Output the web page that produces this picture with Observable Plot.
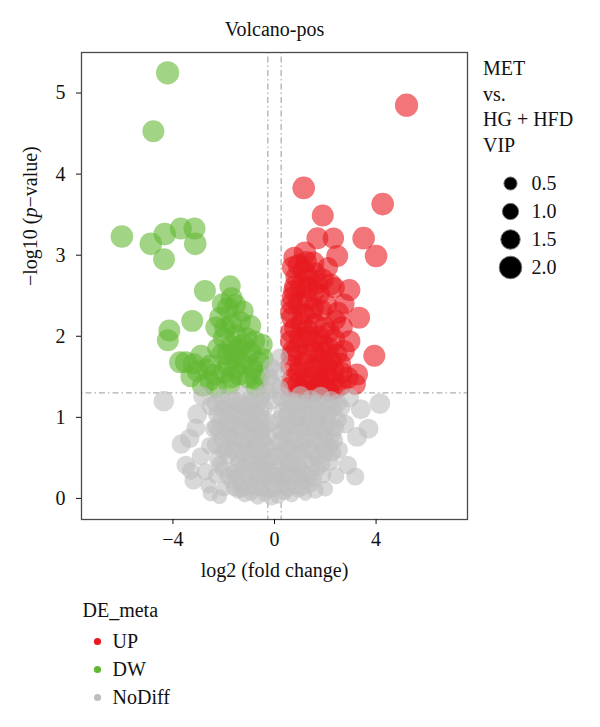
<!DOCTYPE html>
<html><head><meta charset="utf-8">
<script src="https://cdn.jsdelivr.net/npm/d3@7"></script>
<script src="https://cdn.jsdelivr.net/npm/@observablehq/plot@0.6"></script>
<style>
body{margin:0;background:#fff;font-family:"Liberation Serif",serif;}
#wrap{position:relative;width:600px;height:727px;overflow:hidden;}
#wrap > *{position:absolute;}
#vipTitle{left:483px;top:56px;font-size:20px;line-height:25.7px;color:#111;white-space:nowrap;font-family:"Liberation Serif",serif;}
</style></head><body><div id="wrap"></div>
<script>
// ---- data: [log2 fold change, -log10 p, VIP]
const upPoints = [
 [5.20,4.85,2.1],[1.15,3.83,2.0],[4.26,3.63,2.0],[1.90,3.49,1.9],[1.69,3.21,1.9],[2.32,3.21,1.8],
 [3.51,3.21,2.0],[2.47,2.99,1.9],[4.00,2.99,2.0],[0.78,2.97,1.9],[1.20,3.03,2.0],[1.53,2.91,1.9],
 [0.72,2.85,1.9],[1.15,2.81,1.9],[1.60,2.78,1.8],[1.90,2.70,1.9],[2.20,2.64,1.9],[2.95,2.57,1.9],
 [0.85,2.73,1.8],[0.78,2.56,1.9],[1.30,2.60,1.9],[2.35,2.60,1.8],[0.72,2.48,1.9],[1.30,2.45,1.8],
 [1.75,2.52,1.9],[2.05,2.39,1.8],[2.50,2.29,1.9],[3.33,2.23,1.9],[0.70,2.23,1.9],[1.15,2.27,1.9],
 [1.60,2.15,1.9],[1.98,2.11,1.8],[2.65,2.11,1.9],[0.66,2.05,1.9],[1.00,1.98,1.9],[1.45,1.94,1.9],
 [1.90,1.90,1.8],[2.35,1.96,1.9],[2.95,1.94,1.9],[0.72,1.82,1.8],[1.30,1.78,1.9],[1.75,1.74,1.8],
 [2.20,1.70,1.9],[3.93,1.76,1.9],[0.66,1.64,1.9],[1.00,1.62,1.8],[1.53,1.60,1.9],[2.05,1.62,1.8],
 [2.58,1.66,1.9],[3.25,1.53,1.9],[0.72,1.47,1.9],[1.23,1.45,1.8],[1.75,1.47,1.9],[2.35,1.45,1.8],
 [2.88,1.49,1.9],[3.18,1.41,1.8],[0.66,1.37,1.9],[1.30,1.33,1.8],[1.98,1.37,1.9],[2.40,1.35,1.8],
 [0.93,1.41,1.9],[0.68,1.76,1.8],[0.65,1.94,1.9],[0.64,2.30,1.8],[0.70,2.40,1.9],[1.53,2.35,1.8],
 [1.30,2.07,1.9],[2.13,1.86,1.8],[2.73,1.82,1.9],[2.60,1.40,1.9],[1.60,1.33,1.8],
 [0.95,2.88,1.9],[1.35,2.72,1.9],[1.05,2.62,1.9],[1.55,2.55,1.9],[0.95,2.40,1.9],[1.45,2.28,1.9],
 [1.85,2.32,1.8],[1.05,2.15,1.9],[1.35,2.00,1.9],[1.75,2.00,1.8],[2.15,2.05,1.8],[0.90,1.85,1.9],
 [1.55,1.82,1.9],[1.95,1.80,1.8],[2.45,1.78,1.8],[1.20,1.68,1.9],[1.78,1.63,1.8],[2.35,1.58,1.8],
 [0.95,1.55,1.9],[1.50,1.50,1.9],[2.05,1.50,1.8],[2.65,1.55,1.8],[1.05,1.35,1.8],[1.80,1.40,1.8],
 [2.15,1.32,1.7],[0.80,2.62,1.8],[1.70,2.65,1.8],[2.10,2.85,1.7],[1.25,2.92,1.8],[0.80,2.10,1.8],
 [2.40,2.20,1.7],[2.75,2.40,1.7]
];
const dwPoints = [
 [-4.21,5.25,2.1],[-4.77,4.53,1.9],[-6.01,3.23,2.0],[-4.87,3.14,2.0],[-4.32,3.26,2.0],[-3.69,3.33,1.9],
 [-3.15,3.33,1.9],[-3.12,3.14,2.0],[-4.35,2.95,1.9],[-2.74,2.56,1.9],[-1.69,2.47,1.9],[-1.84,2.35,1.9],
 [-1.54,2.39,1.8],[-3.24,2.19,1.9],[-2.14,2.23,1.9],[-1.24,2.31,1.8],[-2.29,2.11,1.9],[-1.69,2.15,1.8],
 [-0.94,2.13,1.8],[-4.14,2.07,1.9],[-4.20,1.95,1.9],[-1.99,1.98,1.9],[-1.54,2.02,1.8],[-1.09,1.98,1.8],
 [-1.69,1.88,1.9],[-1.24,1.90,1.8],[-0.79,1.94,1.8],[-0.49,1.90,1.8],[-2.07,1.78,1.8],[-1.54,1.76,1.9],
 [-0.94,1.80,1.8],[-2.89,1.76,1.9],[-3.49,1.68,1.9],[-3.19,1.66,1.8],[-2.52,1.64,1.9],[-1.84,1.64,1.8],
 [-1.24,1.66,1.8],[-0.64,1.68,1.9],[-0.45,1.72,1.8],[-3.72,1.68,1.9],[-3.04,1.57,1.8],[-2.37,1.53,1.9],
 [-1.69,1.49,1.8],[-1.39,1.53,1.9],[-2.82,1.39,1.9],[-2.29,1.37,1.8],[-1.77,1.41,1.9],[-0.72,1.37,1.8],
 [-0.72,1.47,1.9],
 [-2.05,2.40,1.8],[-1.95,2.10,1.8],[-1.35,2.18,1.8],[-1.40,1.85,1.8],[-1.85,1.78,1.8],[-1.10,1.72,1.8],
 [-2.25,1.85,1.7],[-2.00,1.55,1.8],[-1.55,1.60,1.8],[-1.05,1.48,1.7],[-2.55,1.45,1.7],[-3.30,1.50,1.7],
 [-0.85,1.60,1.7],[-0.55,1.52,1.7],[-1.75,2.62,1.8],[-2.70,1.60,1.7]
];
const noDiffPoints = [
 [-1.45,0.08,0.6],[-1.18,0.04,0.7],[-0.92,0.06,0.8],[-0.66,0.02,0.9],[-0.38,0.05,0.8],[-0.12,0.01,0.9],
 [0.14,0.03,0.9],[0.41,0.07,0.8],[0.68,0.04,0.7],[0.95,0.09,0.6],[1.22,0.05,0.5],[-0.80,0.12,0.7],
 [0.30,0.14,0.8],[-0.25,0.10,0.9],
 [-1.72,0.22,0.9],[-1.35,0.18,1.0],[-1.02,0.24,1.1],[-0.71,0.20,1.1],[-0.43,0.25,1.2],[-0.10,0.19,1.2],
 [0.22,0.23,1.2],[0.51,0.18,1.1],[0.83,0.26,1.0],[1.12,0.21,1.0],[1.42,0.17,0.9],
 [-2.05,0.36,1.0],[-1.62,0.32,1.1],[-1.24,0.38,1.2],[-0.86,0.34,1.2],[-0.52,0.40,1.3],[-0.20,0.33,1.3],
 [0.12,0.37,1.3],[0.43,0.31,1.2],[0.74,0.39,1.2],[1.05,0.35,1.1],[1.36,0.30,1.1],[1.70,0.37,1.0],
 [-2.24,0.48,1.1],[-1.83,0.53,1.2],[-1.41,0.47,1.2],[-1.03,0.55,1.3],[-0.64,0.50,1.3],[-0.28,0.46,1.4],
 [0.08,0.52,1.4],[0.47,0.49,1.3],[0.88,0.54,1.3],[1.27,0.46,1.2],[1.66,0.51,1.2],[2.02,0.55,1.1],
 [-2.32,0.66,1.2],[-1.92,0.62,1.2],[-1.52,0.69,1.3],[-1.12,0.63,1.3],[-0.72,0.68,1.4],[-0.36,0.64,1.4],
 [0.20,0.70,1.4],[0.58,0.62,1.3],[0.98,0.67,1.3],[1.38,0.63,1.3],[1.80,0.69,1.2],[2.18,0.64,1.2],
 [-2.20,0.82,1.2],[-1.78,0.78,1.3],[-1.38,0.84,1.3],[-0.98,0.79,1.4],[-0.60,0.83,1.4],[-0.27,0.78,1.4],
 [0.27,0.82,1.4],[0.62,0.77,1.4],[1.02,0.85,1.3],[1.42,0.80,1.3],[1.82,0.84,1.2],[2.28,0.79,1.2],
 [-2.12,0.96,1.3],[-1.70,0.92,1.3],[-1.28,0.99,1.4],[-0.88,0.94,1.4],[-0.50,0.98,1.4],[-0.20,0.93,1.4],
 [0.22,0.97,1.4],[0.52,0.92,1.4],[0.92,0.99,1.4],[1.32,0.94,1.3],[1.72,0.98,1.3],[2.12,0.93,1.3],[2.50,0.97,1.2],
 [-2.02,1.10,1.3],[-1.60,1.06,1.4],[-1.20,1.13,1.4],[-0.80,1.08,1.4],[-0.42,1.12,1.4],[0.32,1.07,1.4],
 [0.72,1.13,1.4],[1.12,1.08,1.4],[1.52,1.12,1.4],[1.92,1.06,1.3],[2.32,1.11,1.3],
 [-2.08,1.24,1.4],[-1.68,1.20,1.4],[-1.28,1.27,1.4],[-0.90,1.22,1.4],[-0.52,1.26,1.4],[-0.16,1.21,1.4],
 [0.26,1.25,1.4],[0.62,1.20,1.4],[1.02,1.27,1.4],[1.42,1.22,1.4],[1.82,1.26,1.4],[2.22,1.21,1.4],
 [-0.08,1.42,1.3],[0.12,1.56,1.3],[0.20,1.74,1.2],[-0.12,1.62,1.2],
 [-1.60,0.13,1.0],[-1.30,0.11,1.1],[-1.00,0.15,1.2],[-0.55,0.13,1.2],[-0.05,0.12,1.2],[0.50,0.12,1.1],
 [0.85,0.14,1.0],[1.10,0.13,0.9],
 [-1.85,0.28,1.1],[-1.50,0.26,1.2],[-1.15,0.29,1.2],[-0.60,0.28,1.3],[-0.30,0.27,1.3],[0.05,0.28,1.3],
 [0.35,0.27,1.3],[0.65,0.29,1.2],[0.98,0.27,1.1],[1.28,0.25,1.0],[1.55,0.24,1.0],
 [-2.15,0.42,1.1],[-1.45,0.41,1.2],[-1.05,0.44,1.3],[-0.70,0.42,1.3],[-0.40,0.43,1.4],[0.30,0.42,1.3],
 [0.60,0.44,1.3],[0.95,0.41,1.2],[1.50,0.43,1.2],[1.88,0.42,1.1],
 [-2.00,0.58,1.2],[-1.60,0.59,1.2],[-1.25,0.57,1.3],[-0.85,0.60,1.3],[-0.50,0.57,1.4],[-0.10,0.60,1.4],
 [0.30,0.58,1.4],[0.72,0.57,1.3],[1.10,0.59,1.3],[1.50,0.57,1.2],[1.90,0.60,1.2],[2.30,0.56,1.1],
 [-2.05,0.73,1.2],[-1.65,0.74,1.3],[-1.25,0.72,1.3],[-0.85,0.74,1.4],[-0.50,0.73,1.4],[0.40,0.74,1.4],
 [0.80,0.72,1.3],[1.20,0.74,1.3],[1.60,0.72,1.3],[2.00,0.74,1.2],
 [-2.30,0.88,1.2],[-1.90,0.87,1.3],[-1.50,0.89,1.3],[-1.10,0.87,1.4],[-0.75,0.90,1.4],[-0.40,0.88,1.4],
 [0.40,0.88,1.4],[0.80,0.90,1.4],[1.20,0.87,1.3],[1.60,0.89,1.3],[2.00,0.88,1.3],[2.40,0.87,1.2],
 [-2.25,1.03,1.3],[-1.85,1.02,1.3],[-1.45,1.04,1.4],[-1.05,1.02,1.4],[-0.65,1.03,1.4],[0.50,1.02,1.4],
 [0.90,1.04,1.4],[1.30,1.02,1.3],[1.70,1.03,1.3],[2.10,1.02,1.3],
 [-2.30,1.17,1.4],[-1.85,1.17,1.4],[-1.40,1.18,1.4],[-1.00,1.16,1.4],[-0.65,1.18,1.4],[0.50,1.16,1.4],
 [0.90,1.18,1.4],[1.30,1.17,1.4],[1.70,1.18,1.3],[2.10,1.16,1.3],[2.50,1.18,1.3],
 [-0.30,1.32,1.3],[0.20,1.35,1.3],[-0.20,1.50,1.2],
 [-4.36,1.20,1.7],[4.15,1.17,1.7],[-3.04,1.04,1.6],[3.40,1.10,1.6],[3.70,0.86,1.6],[3.25,0.76,1.6],
 [-3.67,0.67,1.5],[-3.34,0.74,1.5],[-3.49,0.41,1.4],[-3.19,0.22,1.3],[-2.37,0.86,1.4],[2.88,0.41,1.4],
 [3.18,0.27,1.3],[1.90,0.29,1.2],[1.60,0.10,1.1],[-2.52,0.06,0.9],[-2.17,0.02,0.8],[2.35,0.72,1.3],
 [-2.90,0.52,1.3],[-2.72,0.33,1.2],[-2.60,0.16,1.0],[2.78,0.92,1.4],[2.62,1.12,1.4],[2.95,1.24,1.5],
 [-2.82,1.26,1.5],[-2.50,1.14,1.4],[2.20,0.45,1.1],[2.42,0.28,1.1],[-3.30,0.34,1.2],[-2.30,0.28,1.0],
 [-2.00,0.12,0.9],[2.00,0.12,0.9],[-2.55,0.65,1.2],[2.55,0.60,1.2],[-3.10,0.87,1.4]
];
const groups = ["UP","DW","NoDiff"];
const groupColors = ["#E8191F","#62B832","#BEBEBE"];
const xTicks = [-4, 0, 4];
const yTicks = [0, 1, 2, 3, 4, 5];
const fcCut = [-0.263, 0.263];
const pCut = [1.301];
const vipLegend = [0.5, 1.0, 1.5, 2.0];
const vipTitleLines = ["MET", "vs.", "HG + HFD", "VIP"];
const rDomain = [0, 2];
const rRange = [5, 11.3];
const titleText = "Volcano-pos";
const xLabel = "log2 (fold change)";
const yLabel = "\u2212log10 (p\u2212value)";
const legendTitle = "DE_meta";

const rows = [];
const add = (g, pts) => pts.forEach(p => rows.push({group: g, x: p[0], y: p[1], vip: p[2]}));
add("NoDiff", noDiffPoints); add("UP", upPoints); add("DW", dwPoints);

const font = "Liberation Serif";
const wrap = document.getElementById("wrap");
const txt = {fontFamily: font, fontSize: 20, fill: "#111"};

const chart = Plot.plot({
  width: 600, height: 590,
  marginTop: 52, marginBottom: 71, marginLeft: 81, marginRight: 133,
  style: {fontFamily: font, fontSize: "20px", color: "#111", background: "white"},
  x: {domain: [-7.6, 7.6]},
  y: {domain: [-0.26, 5.5]},
  r: {type: "linear", domain: rDomain, range: rRange},
  color: {domain: groups, range: groupColors},
  marks: [
    Plot.ruleX(fcCut, {stroke: "#b0b0b0", strokeWidth: 1.3, strokeDasharray: "1.5,3,6,3"}),
    Plot.ruleY(pCut, {stroke: "#b0b0b0", strokeWidth: 1.3, strokeDasharray: "1.5,3,6,3"}),
    Plot.dot(rows, {x: "x", y: "y", r: "vip", fill: "group", fillOpacity: 0.6}),
    Plot.frame({stroke: "#4a4a4a", strokeWidth: 1.3}),
    Plot.axisX({ticks: xTicks, tickSize: 5, tickPadding: 7, label: null, tickFormat: "d", ...txt}),
    Plot.axisY({ticks: yTicks, tickSize: 5, tickPadding: 11, label: null, tickFormat: "d", ...txt}),
    Plot.text([titleText], {frameAnchor: "top", lineAnchor: "middle", dy: -23, ...txt}),
    Plot.text([xLabel], {frameAnchor: "bottom", lineAnchor: "middle", dy: 51, ...txt}),
    Plot.text([yLabel], {frameAnchor: "left", lineAnchor: "middle", dx: -51, rotate: -90, ...txt})
  ]
});
chart.style.left = "0px"; chart.style.top = "0px";
wrap.appendChild(chart);
// italic p in the y label
d3.select(chart).selectAll("text").filter(function(){ return this.textContent === yLabel; })
  .each(function(){
    const t = d3.select(this); t.text("");
    t.append("tspan").text("\u2212log10 (");
    t.append("tspan").attr("font-style", "italic").text("p");
    t.append("tspan").text("\u2212value)");
  });

// VIP size legend title
const vt = document.createElement("div");
vt.id = "vipTitle";
vipTitleLines.forEach(s => { const d = document.createElement("div"); d.textContent = s; vt.appendChild(d); });
wrap.appendChild(vt);

// VIP size legend
const vipPlot = Plot.plot({
  width: 112, height: 118, marginLeft: 22, marginRight: 0, marginTop: 15, marginBottom: 17,
  style: {fontFamily: font, fontSize: "20px", color: "#111", background: "transparent"},
  x: {domain: [0, 1], axis: null},
  y: {type: "point", domain: vipLegend, axis: null, padding: 0},
  r: {type: "linear", domain: rDomain, range: rRange},
  marks: [
    Plot.dot(vipLegend, {x: () => 0, y: d => d, r: d => d, fill: "black", stroke: "#777", strokeWidth: 1}),
    Plot.text(vipLegend, {x: () => 0, y: d => d, text: d => d3.format(".1f")(d), dx: 21, textAnchor: "start", ...txt})
  ]
});
vipPlot.style.left = "488px"; vipPlot.style.top = "167px";
wrap.appendChild(vipPlot);

// DE_meta colour legend
const dePlot = Plot.plot({
  width: 200, height: 125, marginLeft: 37, marginRight: 0, marginTop: 50, marginBottom: 18,
  style: {fontFamily: font, fontSize: "20px", color: "#111", background: "transparent"},
  x: {domain: [0, 1], axis: null},
  y: {type: "point", domain: groups, axis: null, padding: 0},
  color: {domain: groups, range: groupColors},
  marks: [
    Plot.text([legendTitle], {frameAnchor: "top-left", lineAnchor: "middle", dx: -15, dy: -30, textAnchor: "start", ...txt}),
    Plot.dot(groups, {x: () => 0, y: d => d, r: 3.6, fill: d => d}),
    Plot.text(groups, {x: () => 0, y: d => d, text: d => d, dx: 15, textAnchor: "start", ...txt})
  ]
});
dePlot.style.left = "60px"; dePlot.style.top = "590px";
wrap.appendChild(dePlot);
</script></body></html>
